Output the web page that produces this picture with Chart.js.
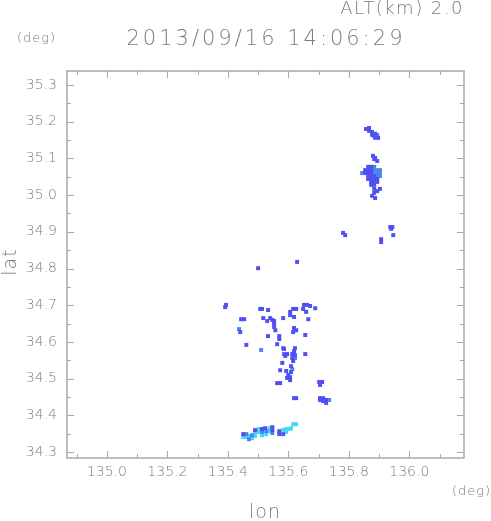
<!DOCTYPE html>
<html>
<head>
<meta charset="utf-8">
<script src="https://cdn.jsdelivr.net/npm/chart.js@4.4.0/dist/chart.umd.min.js"></script>
<style>
  html, body { margin: 0; padding: 0; background: #fff; }
  #wrap { width: 491px; height: 521px; }
</style>
</head>
<body>
<div id="wrap"><canvas id="radar" width="491" height="521"></canvas></div>
<script>
// Axis ranges (deg)
const lonRange = [134.868, 136.181];
const latRange = [34.284, 35.338];

// Texts
const titleText = '2013/09/16 14:06:29';
const altText = 'ALT(km) 2.0';
const xLabel = 'lon';
const yLabel = 'lat';
const unitText = '(deg)';

// Echo cells [lon, lat], split by colour class
const echoDark = [
  // northern cells
  [135.857, 35.180], [135.867, 35.183], [135.867, 35.175], [135.877, 35.172], [135.887, 35.167],
  [135.877, 35.164], [135.897, 35.156], [135.887, 35.156],
  [135.880, 35.107], [135.887, 35.101], [135.894, 35.093], [135.884, 35.098],
  [135.864, 35.077], [135.874, 35.077],
  [135.854, 35.068], [135.864, 35.068], [135.874, 35.068],
  [135.854, 35.060], [135.864, 35.060], [135.874, 35.060],
  [135.864, 35.052], [135.874, 35.052], [135.884, 35.052],
  [135.864, 35.044], [135.874, 35.044], [135.884, 35.044], [135.894, 35.044],
  [135.874, 35.036], [135.884, 35.036], [135.894, 35.036],
  [135.874, 35.028], [135.884, 35.028],
  [135.884, 35.017], [135.894, 35.011], [135.903, 35.017], [135.884, 35.006], [135.877, 34.998], [135.887, 34.992],
  [135.937, 34.913], [135.944, 34.913], [135.940, 34.908], [135.947, 34.891],
  [135.781, 34.897], [135.788, 34.891], [135.907, 34.880], [135.907, 34.872],
  [135.629, 34.818], [135.500, 34.801],
  // central cells
  [135.391, 34.695], [135.394, 34.701], [135.507, 34.690], [135.513, 34.690], [135.533, 34.687],
  [135.444, 34.662], [135.454, 34.662], [135.517, 34.665], [135.540, 34.665], [135.547, 34.660],
  [135.553, 34.657], [135.553, 34.649], [135.553, 34.641], [135.557, 34.632], [135.530, 34.657],
  [135.441, 34.627], [135.533, 34.616], [135.570, 34.616], [135.570, 34.608], [135.461, 34.592],
  [135.563, 34.594],
  [135.652, 34.701], [135.662, 34.701], [135.672, 34.698], [135.689, 34.692], [135.649, 34.690],
  [135.659, 34.682], [135.616, 34.690], [135.626, 34.690], [135.606, 34.682], [135.606, 34.673],
  [135.619, 34.668], [135.583, 34.665], [135.666, 34.662], [135.619, 34.638], [135.626, 34.632],
  [135.616, 34.627], [135.656, 34.619], [135.583, 34.583], [135.622, 34.583], [135.619, 34.575],
  [135.586, 34.581], [135.586, 34.567], [135.596, 34.567], [135.590, 34.562], [135.616, 34.567],
  [135.656, 34.567], [135.613, 34.567], [135.622, 34.564], [135.613, 34.556], [135.616, 34.548],
  [135.580, 34.543], [135.609, 34.534], [135.609, 34.518], [135.573, 34.523], [135.593, 34.521],
  [135.600, 34.510], [135.596, 34.502], [135.606, 34.504], [135.606, 34.496],
  [135.563, 34.488], [135.573, 34.488],
  [135.702, 34.491], [135.712, 34.491], [135.705, 34.483],
  [135.619, 34.447], [135.626, 34.447],
  [135.705, 34.447], [135.715, 34.447], [135.725, 34.442], [135.715, 34.439], [135.725, 34.434], [135.705, 34.442],
  // southern band
  [135.451, 34.349], [135.490, 34.360], [135.513, 34.363], [135.523, 34.365], [135.547, 34.360],
  [135.547, 34.368], [135.570, 34.357], [135.570, 34.349], [135.583, 34.349]
];

const echoMid = [
  [135.884, 35.161], [135.894, 35.164],
  [135.884, 35.077],
  [135.884, 35.068], [135.894, 35.068], [135.903, 35.068],
  [135.844, 35.060], [135.884, 35.060], [135.894, 35.060], [135.903, 35.060],
  [135.894, 35.052], [135.903, 35.052],
  [135.437, 34.635], [135.510, 34.578], [135.622, 34.556], [135.613, 34.526], [135.735, 34.442],
  [135.461, 34.349], [135.470, 34.335], [135.480, 34.346], [135.513, 34.355], [135.527, 34.357],
  [135.547, 34.352]
];

const echoCyan = [
  [135.451, 34.341], [135.461, 34.341], [135.470, 34.344], [135.480, 34.338], [135.490, 34.344],
  [135.490, 34.352], [135.503, 34.355], [135.503, 34.363], [135.513, 34.346], [135.537, 34.357],
  [135.537, 34.365], [135.527, 34.349], [135.583, 34.360], [135.593, 34.363], [135.603, 34.363],
  [135.593, 34.355], [135.609, 34.365], [135.616, 34.376], [135.626, 34.376]
];

const textColor = '#7c7c7c';
const frameColor = '#a8a8a8';

const toPoints = arr => arr.map(([x, y]) => ({ x, y }));

function cellSet(label, arr, color) {
  return {
    label,
    data: toPoints(arr),
    pointStyle: 'rect',
    pointRadius: 2.8,
    pointHoverRadius: 2.8,
    borderWidth: 0,
    backgroundColor: color,
    showLine: false
  };
}

// Frame with inward ticks on all four sides
const framePlugin = {
  id: 'frame',
  afterDatasetsDraw(chart) {
    const { ctx, chartArea: a, scales: { x, y } } = chart;
    ctx.save();
    ctx.strokeStyle = frameColor;
    ctx.lineWidth = 1.5;
    ctx.strokeRect(a.left, a.top, a.right - a.left, a.bottom - a.top);
    ctx.lineWidth = 1;
    ctx.beginPath();
    x.ticks.forEach(t => {
      const px = Math.round(x.getPixelForValue(t.value)) + 0.5;
      const len = t.label ? 7 : 4;
      ctx.moveTo(px, a.bottom); ctx.lineTo(px, a.bottom - len);
      ctx.moveTo(px, a.top); ctx.lineTo(px, a.top + len);
    });
    y.ticks.forEach(t => {
      const py = Math.round(y.getPixelForValue(t.value)) + 0.5;
      const len = t.label ? 7 : 4;
      ctx.moveTo(a.left, py); ctx.lineTo(a.left + len, py);
      ctx.moveTo(a.right, py); ctx.lineTo(a.right - len, py);
    });
    ctx.stroke();
    ctx.restore();
  }
};

// Titles and axis names
const textPlugin = {
  id: 'texts',
  afterDraw(chart) {
    const { ctx } = chart;
    ctx.save();
    ctx.fillStyle = textColor;
    ctx.textBaseline = 'middle';

    ctx.font = '200 18px "DejaVu Sans"';
    ctx.letterSpacing = '1.5px';
    ctx.textAlign = 'right';
    ctx.fillText(altText, 464, 9);

    ctx.font = '200 21px "DejaVu Sans"';
    ctx.letterSpacing = '3px';
    ctx.textAlign = 'center';
    ctx.fillText(titleText, 266, 40);

    ctx.font = '200 13px "DejaVu Sans"';
    ctx.letterSpacing = '1px';
    ctx.textAlign = 'left';
    ctx.fillText(unitText, 17, 39);
    ctx.fillText(unitText, 452, 492);

    ctx.font = '200 19px "DejaVu Sans"';
    ctx.letterSpacing = '1px';
    ctx.textAlign = 'center';
    ctx.fillText(xLabel, 265, 513);

    ctx.translate(11, 262);
    ctx.rotate(-Math.PI / 2);
    ctx.fillText(yLabel, 0, 0);
    ctx.restore();
  }
};

const tickFont = { family: 'DejaVu Sans', size: 14, weight: 200 };

new Chart(document.getElementById('radar'), {
  type: 'scatter',
  data: {
    datasets: [
      cellSet('dark', echoDark, '#4f50f2'),
      cellSet('mid', echoMid, '#4a86f3'),
      cellSet('cyan', echoCyan, '#46d8f4')
    ]
  },
  options: {
    responsive: false,
    animation: false,
    devicePixelRatio: 1,
    layout: { padding: { top: 71, right: 27, bottom: 0, left: 0 } },
    plugins: { legend: { display: false }, tooltip: { enabled: false } },
    scales: {
      x: {
        type: 'linear',
        min: lonRange[0],
        max: lonRange[1],
        afterFit: s => { s.height = 63; },
        grid: { display: false, drawTicks: false },
        border: { display: false },
        ticks: {
          stepSize: 0.1,
          maxTicksLimit: 100,
          includeBounds: false,
          autoSkip: false,
          maxRotation: 0,
          padding: 6,
          color: textColor,
          font: tickFont,
          callback: v => Math.round(v * 10) % 2 === 0 ? v.toFixed(1) : ''
        }
      },
      y: {
        type: 'linear',
        min: latRange[0],
        max: latRange[1],
        afterFit: s => { s.width = 67; },
        grid: { display: false, drawTicks: false },
        border: { display: false },
        ticks: {
          stepSize: 0.05,
          maxTicksLimit: 100,
          includeBounds: false,
          autoSkip: false,
          padding: 10,
          color: textColor,
          font: tickFont,
          callback: v => Math.round(v * 20) % 2 === 0 ? v.toFixed(1) : ''
        }
      }
    }
  },
  plugins: [framePlugin, textPlugin]
});
</script>
</body>
</html>
